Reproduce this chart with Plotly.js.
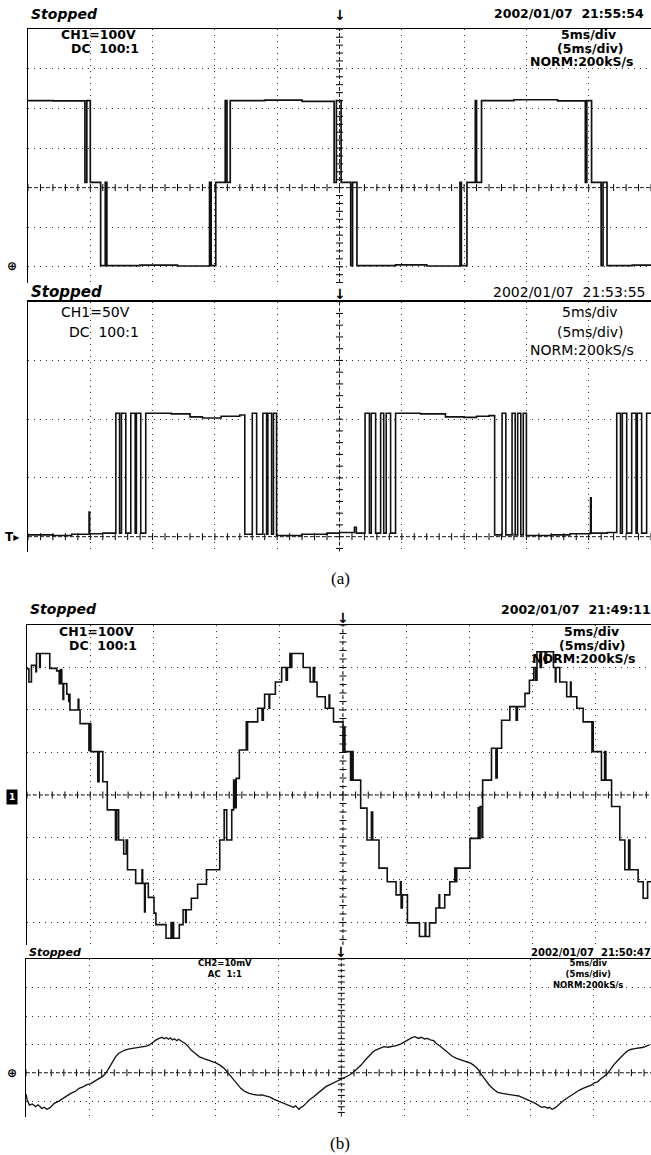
<!DOCTYPE html>
<html><head><meta charset="utf-8">
<script src="https://cdn.plot.ly/plotly-3.0.1.min.js"></script>
<style>html,body{margin:0;padding:0;background:#fff;} #chart{width:651px;height:1155px;}</style>
</head><body><div id="chart"></div>
<script>
// ===== DATA (time in ms, 5 ms/div) =====
// (a) upper trace: CH1 100 V/div, phase voltage (V)
const a1_t = [0, 2.0, 4.57, 4.72, 5.0, 5.83, 6.2, 6.33, 9.0, 12.0,
  14.57, 14.7, 15.07, 15.83, 15.97, 16.23, 19.0, 22.0, 24.57, 24.75,
  25.13, 25.9, 26.05, 26.4, 29.5, 32.0, 34.67, 34.78, 35.23, 35.9,
  36.0, 36.4, 39.0, 42.5, 44.73, 44.85, 45.23, 46.0, 46.15, 46.47,
  48.5, 50];
const a1_v = [220, 219, 13, 220, 13, -197, 13, -197, -196, -198,
  13, -197, 13, 220, 13, 220, 221, 218, 13, 220,
  13, -197, 13, -197, -195, -198, 13, -197, 13, 220,
  13, 220, 222, 219, 13, 220, 13, -197, 13, -197,
  -196, -197];

// (a) lower trace: CH1 50 V/div, PWM cell voltage (V)
const a2_t = [0, 2.0, 3.5, 4.9, 4.95, 6.0, 7.05, 7.35, 7.5, 7.85,
  8.25, 8.6, 8.7, 9.05, 9.45, 11.5, 13.0, 14.0, 15.5, 17.0,
  17.4, 18.0, 18.35, 18.85, 19.15, 19.25, 19.55, 19.7, 19.95, 22.0,
  24.0, 25.0, 26.2, 26.35, 27.05, 27.4, 27.55, 27.9, 28.3, 28.55,
  28.75, 29.1, 29.5, 31.5, 33.5, 35.0, 36.0, 37.0, 37.45, 38.05,
  38.35, 38.85, 39.1, 39.3, 39.55, 39.75, 40.0, 42.0, 43.5, 45.1,
  45.15, 45.2, 46.5, 47.25, 47.55, 47.7, 48.05, 48.45, 48.8, 48.9,
  49.25, 49.65, 50];
const a2_v = [1.5, 1.0, 2.0, 21, 2.5, 3.0, 105, 3, 105, 3,
  105, 3, 105, 3, 105, 104.5, 102, 101, 102.5, 103.5,
  2, 105, 2, 105, 2, 105, 2, 105, 1, 2,
  3, 3.5, 8, 3, 105, 3, 105, 3, 105, 3,
  105, 3, 105, 104.5, 102, 101.5, 102.5, 103, 1.5, 105,
  1.5, 105, 1.5, 105, 1.5, 105, 1, 1.5, 2.5, 3,
  33, 3, 3.5, 105, 3, 105, 3, 105, 3, 105,
  3, 105, 105];

// (b) upper trace: CH1 100 V/div, multilevel output voltage (V)
const b1_t = [0, 0.15, 0.35, 0.7, 0.75, 1.0, 1.05, 1.8, 2.35, 2.55,
  2.65, 2.75, 2.85, 2.9, 3.15, 3.3, 3.35, 3.4, 4.05, 4.1,
  4.2, 4.9, 4.95, 5.05, 5.6, 5.7, 6.0, 6.35, 7.0, 7.1,
  7.25, 7.65, 7.85, 7.95, 8.6, 9.1, 9.15, 9.3, 9.35, 9.6,
  10.05, 10.2, 11.0, 11.4, 11.45, 11.55, 11.6, 12.05, 12.35, 12.55,
  12.6, 13.0, 13.5, 14.2, 15.25, 15.6, 15.8, 16.2, 16.35, 16.45,
  16.55, 16.8, 17.35, 17.4, 17.45, 18.25, 18.6, 18.7, 18.8, 19.15,
  19.2, 19.65, 20.15, 20.5, 20.6, 20.8, 20.9, 20.95, 21.85, 22.4,
  22.65, 22.75, 22.95, 23.6, 23.9, 23.95, 24.25, 25.0, 25.1, 25.15,
  25.6, 25.7, 25.8, 26.4, 26.9, 27.25, 27.35, 27.85, 28.5, 29.2,
  29.55, 29.6, 29.7, 30.1, 31.05, 31.5, 31.55, 31.85, 32.35, 32.6,
  32.65, 33.05, 33.45, 33.85, 33.9, 34.0, 35.05, 35.7, 35.75, 35.85,
  36.0, 36.05, 36.75, 37.1, 37.2, 37.55, 38.2, 38.7, 38.8, 39.4,
  39.75, 40.1, 40.25, 40.35, 40.6, 40.7, 41.0, 41.1, 41.65, 41.8,
  41.85, 42.15, 42.7, 43.0, 43.05, 43.5, 44.0, 44.7, 44.75, 44.8,
  45.45, 45.7, 45.8, 46.25, 46.9, 47.3, 47.6, 47.7, 48.35, 48.75,
  49.1, 49.4];
const b1_v = [297, 266, 305, 290, 333, 300, 333, 298, 292, 262,
  295, 262, 225, 262, 237, 220, 237, 200, 225, 200,
  168, 105, 168, 102, 31, 102, 31, -35, -106, -35,
  -106, -139, -106, -176, -208, -176, -208, -275, -208, -241,
  -278, -305, -337, -300, -337, -300, -337, -305, -270, -300,
  -270, -243, -210, -176, -106, -35, -106, -35, 35, -30,
  39, 106, 172, 106, 172, 204, 176, 204, 237, 204,
  237, 266, 300, 270, 300, 333, 300, 333, 300, 266,
  300, 266, 231, 204, 235, 204, 172, 102, 160, 102,
  35, 102, 35, -31, -106, -40, -106, -172, -204, -235,
  -204, -266, -235, -301, -333, -301, -333, -301, -266, -235,
  -266, -235, -204, -172, -204, -172, -102, -30, -102, -27,
  -100, 35, 110, 40, 110, 176, 208, 176, 208, 239,
  270, 300, 270, 337, 300, 337, 310, 337, 300, 266,
  300, 266, 231, 266, 231, 204, 172, 102, 172, 102,
  35, 102, 35, -27, -106, -176, -106, -176, -204, -243,
  -204, -204];

// (b) lower trace: CH2 10 mV/div, current probe (mV)
const b2_t = [0, 0.1, 0.27, 0.5, 0.76, 0.95, 1.09, 1.25, 1.45, 1.65,
  1.91, 2.24, 2.6, 2.9, 3.2, 3.55, 3.9, 4.21, 4.55, 4.87,
  5.1, 5.36, 5.6, 5.86, 6.1, 6.35, 6.6, 6.84, 7.1, 7.33,
  7.6, 7.83, 8.2, 8.49, 8.9, 9.31, 9.55, 9.8, 10.05, 10.29,
  10.55, 10.79, 10.95, 11.12, 11.3, 11.44, 11.6, 11.77, 11.95, 12.1,
  12.35, 12.6, 12.85, 13.09, 13.4, 13.75, 14.1, 14.4, 14.7, 15.06,
  15.4, 15.72, 16.05, 16.38, 16.7, 17.03, 17.35, 17.69, 18.0, 18.35,
  18.7, 19.01, 19.35, 19.67, 20.0, 20.32, 20.65, 20.98, 21.2, 21.38,
  21.5, 21.64, 21.8, 21.97, 22.2, 22.46, 22.8, 23.12, 23.45, 23.77,
  24.1, 24.43, 24.7, 24.93, 25.2, 25.42, 25.65, 25.91, 26.25, 26.57,
  26.9, 27.23, 27.5, 27.72, 28.05, 28.38, 28.7, 29.04, 29.35, 29.69,
  30.0, 30.35, 30.6, 30.84, 31.1, 31.34, 31.6, 31.83, 32.05, 32.32,
  32.55, 32.82, 33.15, 33.47, 33.8, 34.13, 34.45, 34.79, 35.05, 35.28,
  35.5, 35.78, 36.1, 36.43, 36.75, 37.09, 37.4, 37.75, 38.1, 38.41,
  38.75, 39.07, 39.4, 39.72, 40.05, 40.38, 40.6, 40.87, 41.1, 41.37,
  41.5, 41.7, 41.95, 42.19, 42.5, 42.85, 43.2, 43.5, 43.85, 44.16,
  44.5, 44.82, 45.05, 45.31, 45.55, 45.8, 46.05, 46.3, 46.6, 46.95,
  47.2, 47.45, 47.7, 47.94, 48.25, 48.6, 48.85, 49.09, 49.25, 49.42];
const b2_v = [-7.5, -9.6, -11.4, -11.0, -12.0, -11.3, -11.8, -12.6, -12.2, -12.9,
  -12.3, -10.8, -10.0, -9.1, -8.4, -7.3, -6.6, -5.5, -4.9, -4.1,
  -3.9, -3.2, -2.6, -2.0, -1.2, 0, 2.0, 3.9, 5.6, 6.8,
  7.6, 8.0, 8.4, 8.6, 8.7, 9.2, 9.4, 9.8, 10.8, 11.5,
  12.1, 12.5, 12.0, 12.4, 11.8, 12.3, 11.6, 12.0, 11.3, 11.8,
  11.0, 10.4, 9.3, 8.0, 6.9, 5.6, 5.0, 4.5, 4.0, 3.5,
  2.6, 1.5, -0.2, -2.0, -3.9, -5.5, -6.6, -7.3, -7.6, -7.9,
  -7.8, -8.2, -8.6, -9.4, -10.0, -10.6, -11.2, -11.8, -12.2, -11.7,
  -12.4, -12.9, -12.2, -11.8, -10.8, -9.6, -8.5, -7.3, -6.1, -4.9,
  -4.2, -3.5, -3.1, -2.6, -2.0, -1.4, -0.8, 0, 1.4, 2.7,
  4.5, 6.2, 7.3, 8.0, 8.5, 9.2, 9.0, 9.2, 9.6, 10.1,
  10.9, 11.8, 12.4, 12.7, 12.1, 12.5, 11.9, 12.1, 11.6, 11.3,
  10.2, 9.4, 8.1, 6.8, 5.8, 5.1, 4.6, 4.2, 3.8, 3.3,
  2.6, 1.5, -0.6, -2.6, -4.5, -5.9, -6.9, -7.3, -7.6, -7.9,
  -8.0, -8.2, -8.8, -9.4, -10.1, -10.8, -11.4, -12.2, -12.0, -12.5,
  -12.2, -12.9, -12.4, -11.4, -10.2, -9.1, -8.0, -7.1, -6.2, -5.5,
  -4.8, -4.4, -3.6, -3.2, -2.2, -1.4, -0.5, 0.9, 2.8, 4.5,
  5.8, 6.8, 7.7, 8.2, 8.5, 8.6, 8.9, 9.2, 9.5, 9.8];

// Screen labels
const stamps = ['2002/01/07\u00a0\u00a021:55:54', '2002/01/07\u00a0\u00a021:53:55',
                '2002/01/07\u00a0\u00a021:49:11', '2002/01/07\u00a0\u00a021:50:47'];
const chLabels = ['CH1=100V', 'CH1=50V', 'CH1=100V', 'CH2=10mV'];
const cplLabels = ['DC\u00a0\u00a0100:1', 'DC\u00a0\u00a0100:1', 'DC\u00a0\u00a0100:1', 'AC\u00a0\u00a01:1'];
const tbLabels = ['5ms/div', '(5ms/div)', 'NORM:200kS/s'];
const captions = ['(a)', '(b)'];

// ===== LAYOUT (pixel geometry) =====
const W = 651, H = 1155;
const panels = [
  {t:a1_t, v:a1_v, shape:'hv', lw:1.7, box:[28,29.3,651,283], xr:[0,50], yr:[-241,400], ydiv:100,
   hdrY:14, stopS:14, stampF:{family:'DejaVu Sans', size:12.5}, stampB:true, stampX:646,
   lblF:{family:'DejaVu Sans', size:12.5}, lblB:true, chX:59, chY:35, cpX:69, cpY:48, chAnchor:'left',
   tbX:[588,590,582], tbY:[35,48,61], trigY:15, gndY:266, gnd:'⊕'},
  {t:a2_t, v:a2_v, shape:'hv', lw:1.6, box:[28,301.7,651,551.7], xr:[0,50], yr:[-12.8,200], ydiv:50,
   hdrY:292, stopS:15, stampF:{family:'DejaVu Sans', size:14}, stampB:false, stampX:647,
   lblF:{family:'DejaVu Sans', size:14}, lblB:false, chX:59, chY:312, cpX:67, cpY:332, chAnchor:'left',
   tbX:[590,590,582], tbY:[312,332,350], trigY:294, gndY:537, gnd:'T▸'},
  {t:b1_t, v:b1_v, shape:'hv', lw:1.6, box:[27,625,651,945], xr:[0,49.37], yr:[-353,400], ydiv:100,
   hdrY:609, stopS:14, stampF:{family:'DejaVu Sans', size:12.5}, stampB:true, stampX:653,
   lblF:{family:'DejaVu Sans', size:12.5}, lblB:true, chX:57, chY:631, cpX:67, cpY:645, chAnchor:'left',
   tbX:[591,592,584], tbY:[631,645,658], trigY:618, gndY:797, gnd:'box'},
  {t:b2_t, v:b2_v, shape:'linear', lw:1.3, box:[26,959.3,651,1116.7], xr:[0,49.55], yr:[-15.5,40], ydiv:10,
   hdrY:952, stopS:11, stampF:{family:'DejaVu Sans', size:10}, stampB:true, stampX:653,
   lblF:{family:'DejaVu Sans', size:8.5}, lblB:true, multi:true, chX:225, chY:968, chAnchor:'center',
   tbX:588, tbY:974, trigY:952, gndY:1073, gnd:'⊕'}
];
const capPos = [[340,578],[340,1143]];

const traces = [];
const layout = {width:W, height:H, margin:{l:0,r:0,t:0,b:0}, paper_bgcolor:'#fff', plot_bgcolor:'#fff',
  showlegend:false, shapes:[], annotations:[], hovermode:false};

function ann(text, x, y, font, xa, extra){
  return Object.assign({text:text, xref:'paper', yref:'paper', x:x/W, y:1-y/H, xanchor:xa||'left',
    yanchor:'middle', showarrow:false, font:Object.assign({color:'#000'}, font)}, extra||{});
}
const B = (s, on) => on ? '<b>'+s+'</b>' : s;

panels.forEach((p, i) => {
  const n = i === 0 ? '' : String(i+1);
  const xa = 'x'+n, ya = 'y'+n;
  const axCommon = {showline:true, linecolor:'#000', linewidth:1.5, showgrid:true, gridcolor:'#333',
    griddash:'1px,5px', gridwidth:1, ticks:'', showticklabels:false, zeroline:false, fixedrange:true, tick0:0};
  layout['xaxis'+n] = Object.assign({}, axCommon, {domain:[p.box[0]/W, p.box[2]/W], range:p.xr, anchor:ya,
    side:'top', dtick:5});
  layout['yaxis'+n] = Object.assign({}, axCommon, {domain:[1-p.box[3]/H, 1-p.box[1]/H], range:p.yr, anchor:xa,
    dtick:p.ydiv});

  // center cross-hair lines (dashed)
  layout.shapes.push({type:'line', xref:xa, yref:ya, x0:p.xr[0], x1:p.xr[1], y0:0, y1:0,
    line:{color:'#222', width:1, dash:'4px,2px'}});
  layout.shapes.push({type:'line', xref:xa, yref:ya, x0:25, x1:25, y0:p.yr[0], y1:p.yr[1],
    line:{color:'#222', width:1, dash:'4px,2px'}});

  // minor ticks on the center lines (every 0.2 div)
  const hx = [], hy = [];
  for (let k = 0; k * 1 <= p.xr[1] + 1e-9; k++) { hx.push(k * 1); hy.push(0); }
  traces.push({type:'scatter', mode:'markers', x:hx, y:hy, xaxis:xa, yaxis:ya, hoverinfo:'skip',
    marker:{symbol:'line-ns-open', size:5, color:'#000', line:{width:1, color:'#000'}}});
  const vx = [], vy = [];
  const st = p.ydiv * 0.2;
  for (let k = Math.ceil(p.yr[0]/st); k * st <= p.yr[1] + 1e-9; k++) { vx.push(25); vy.push(k * st); }
  traces.push({type:'scatter', mode:'markers', x:vx, y:vy, xaxis:xa, yaxis:ya, hoverinfo:'skip',
    marker:{symbol:'line-ew-open', size:5, color:'#000', line:{width:1, color:'#000'}}});

  // waveform
  traces.push({type:'scatter', mode:'lines', x:p.t, y:p.v, xaxis:xa, yaxis:ya, hoverinfo:'skip',
    line:{color:'#111', width:p.lw, shape:p.shape}});

  // header
  layout.annotations.push(ann('<b><i>Stopped</i></b>', p.box[0]+1, p.hdrY, {family:'DejaVu Sans', size:p.stopS}, 'left'));
  layout.annotations.push(ann(B(stamps[i], p.stampB), p.stampX, p.hdrY, p.stampF, 'right'));
  // trigger marker
  layout.annotations.push({text:'<b>↓</b>', xref:xa, yref:'paper', x:25, y:1-p.trigY/H, xanchor:'center',
    yanchor:'middle', showarrow:false, font:{family:'DejaVu Sans', size:14, color:'#000'}});
  // channel labels
  if (p.multi) {
    layout.annotations.push(ann(B(chLabels[i], true)+'<br>'+B(cplLabels[i], true), p.chX, p.chY, p.lblF, 'center'));
    layout.annotations.push(ann(tbLabels.map(s => B(s, true)).join('<br>'), p.tbX, p.tbY, p.lblF, 'center'));
  } else {
    layout.annotations.push(ann(B(chLabels[i], p.lblB), p.chX, p.chY, p.lblF, p.chAnchor));
    layout.annotations.push(ann(B(cplLabels[i], p.lblB), p.cpX, p.cpY, p.lblF, p.chAnchor));
    tbLabels.forEach((s, j) => layout.annotations.push(ann(B(s, p.lblB), p.tbX[j], p.tbY[j], p.lblF, 'center')));
  }
  // ground marker
  if (p.gnd === 'box') {
    layout.annotations.push(ann('<b>1</b>', 12, p.gndY, {family:'DejaVu Sans', size:9, color:'#fff'}, 'center',
      {bgcolor:'#000', borderpad:2}));
  } else {
    layout.annotations.push(ann('<b>'+p.gnd+'</b>', 12, p.gndY, {family:'DejaVu Sans', size:12}, 'center'));
  }
});

captions.forEach((c, i) => layout.annotations.push(
  ann(c, capPos[i][0], capPos[i][1], {family:'Liberation Serif', size:17}, 'center')));

Plotly.newPlot('chart', traces, layout, {staticPlot:true, displayModeBar:false});
</script>
</body></html>
